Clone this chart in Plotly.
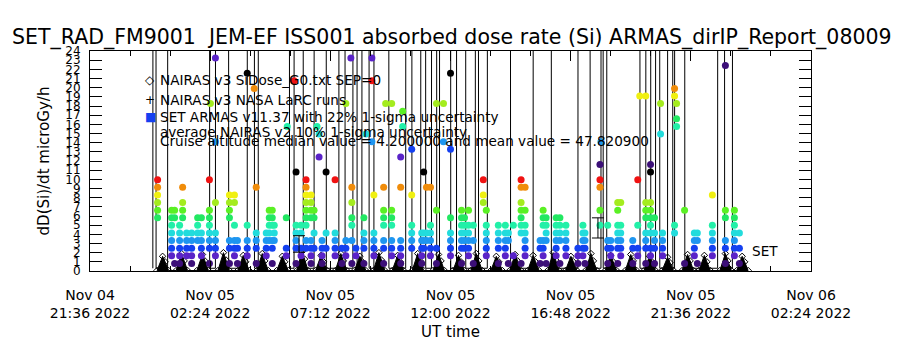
import plotly.graph_objects as go
import pandas as pd

# ---------------- data ----------------
T0 = pd.Timestamp("2022-11-04 21:36")
x_tick_hours = [0, 4.8, 9.6, 14.4, 19.2, 24.0, 28.8]
y_ticks = list(range(0, 25))

title_text = "SET_RAD_FM9001  JEM-EF ISS001 absorbed dose rate (Si) ARMAS_dirIP_Report_08009"
y_title = "dD(Si)/dt microGy/h"
x_title = "UT time"

legend_lines = [
    "NAIRAS v3 SiDose_G0.txt SEP=0",
    "NAIRAS v3 NASA LaRC runs",
    "SET ARMAS v11.37 with 22% 1-sigma uncertainty",
    "average NAIRAS v2 10% 1-sigma uncertainty",
    "Cruise altitude median value = 4.200000 and mean value = 47.820900",
]

# NAIRAS v3 SiDose_G0 (hours after 2022-11-04 21:36, microGy/h)
nairas_g0_hours = [
    2.68, 2.90, 3.00, 3.14, 3.44, 3.66, 3.76, 3.90, 4.27, 4.49, 4.59, 4.73,
    5.11, 5.33, 5.43, 5.57, 5.90, 6.12, 6.22, 6.36, 6.66, 6.88, 6.98, 7.12,
    7.46, 7.68, 7.78, 7.92, 8.25, 8.47, 8.57, 8.71, 9.01, 9.23, 9.33, 9.47,
    9.80, 10.02, 10.12, 10.26, 10.56, 10.78, 10.88, 11.02, 11.32, 11.54, 11.64, 11.78,
    12.07, 12.29, 12.39, 12.53, 12.87, 13.09, 13.19, 13.33, 13.70, 13.92, 14.02, 14.16,
    14.50, 14.72, 14.82, 14.96, 15.21, 15.43, 15.53, 15.67, 16.01, 16.23, 16.33, 16.47,
    16.76, 16.98, 17.08, 17.22, 17.48, 17.70, 17.80, 17.94, 18.28, 18.50, 18.60, 18.74,
    18.99, 19.21, 19.31, 19.45, 19.79, 20.01, 20.11, 20.25, 20.58, 20.80, 20.90, 21.04,
    21.38, 21.60, 21.70, 21.84, 22.13, 22.35, 22.45, 22.59, 22.85, 23.07, 23.17, 23.31,
    23.65, 23.87, 23.97, 24.11, 24.32, 24.54, 24.64, 24.78, 25.16, 25.38, 25.48, 25.62,
    25.83, 26.05, 26.15, 26.29,
]
nairas_g0_dose = [
    0.05, 1.6, 1.0, 0.05, 0.05, 1.9, 1.1, 0.05, 0.05, 1.8, 1.1, 0.05,
    0.05, 2.0, 1.2, 0.05, 0.05, 1.7, 1.0, 0.05, 0.05, 1.9, 1.1, 0.05,
    0.05, 1.6, 1.0, 0.05, 0.05, 2.1, 1.3, 0.05, 0.05, 1.7, 1.0, 0.05,
    0.05, 1.9, 1.1, 0.05, 0.05, 1.6, 1.0, 0.05, 0.05, 2.0, 1.2, 0.05,
    0.05, 1.7, 1.0, 0.05, 0.05, 1.9, 1.1, 0.05, 0.05, 1.8, 1.1, 0.05,
    0.05, 1.7, 1.0, 0.05, 0.05, 1.9, 1.1, 0.05, 0.05, 1.6, 1.0, 0.05,
    0.05, 1.8, 1.1, 0.05, 0.05, 1.7, 1.0, 0.05, 0.05, 2.0, 1.2, 0.05,
    0.05, 1.6, 1.0, 0.05, 0.05, 1.9, 1.1, 0.05, 0.05, 1.7, 1.0, 0.05,
    0.05, 1.8, 1.1, 0.05, 0.05, 1.6, 1.0, 0.05, 0.05, 1.5, 0.9, 0.05,
    0.05, 1.8, 1.1, 0.05, 0.05, 1.7, 1.0, 0.05, 0.05, 1.9, 1.1, 0.05,
    0.05, 1.6, 1.0, 0.05,
]

# NAIRAS v3 NASA LaRC runs: SAA passes shoot far above the plotted range
larc_hours = [
    2.51, 2.52, 2.63, 2.64, 3.10, 3.11, 4.77, 4.78, 5.01, 5.02, 5.53, 5.54,
    6.28, 6.29, 6.56, 6.57, 6.72, 6.73, 7.96, 7.97, 8.15, 8.16, 8.51, 8.52,
    8.95, 8.96, 9.43, 9.44, 9.94, 9.95, 10.18, 10.19, 10.50, 10.51, 10.66, 10.67,
    10.86, 10.87, 11.14, 11.15, 11.34, 11.35, 11.93, 11.94, 12.61, 12.62, 12.85, 12.86,
    13.21, 13.22, 13.40, 13.41, 13.64, 13.65, 13.84, 13.85, 13.96, 13.97, 14.40, 14.41,
    14.64, 14.65, 15.00, 15.01, 15.39, 15.40, 15.51, 15.52, 15.87, 15.88, 16.79, 16.80,
    17.70, 17.71, 18.42, 18.43, 19.49, 19.50, 19.97, 19.98, 20.41, 20.42, 20.49, 20.50,
    20.64, 20.65, 21.96, 21.97, 22.20, 22.21, 22.39, 22.40, 22.59, 22.60, 22.75, 22.76,
    23.07, 23.08, 23.27, 23.28, 23.35, 23.36, 23.75, 23.76, 25.07, 25.08, 25.34, 25.35,
    25.66, 25.67,
]
larc_dose = [
    0.3, 90, 90, 0.3, 0.3, 90, 90, 0.3, 0.3, 90, 90, 0.3,
    0.3, 90, 90, 0.3, 0.3, 90, 90, 0.3, 0.3, 90, 90, 0.3,
    0.3, 90, 90, 0.3, 0.3, 90, 90, 0.3, 0.3, 90, 90, 0.3,
    0.3, 90, 90, 0.3, 0.3, 90, 90, 0.3, 0.3, 90, 90, 0.3,
    0.3, 90, 90, 0.3, 0.3, 90, 90, 0.3, 0.3, 90, 90, 0.3,
    0.3, 90, 90, 0.3, 0.3, 90, 90, 0.3, 0.3, 90, 90, 0.3,
    0.3, 90, 90, 0.3, 0.3, 90, 90, 0.3, 0.3, 90, 90, 0.3,
    0.3, 90, 90, 0.3, 0.3, 90, 90, 0.3, 0.3, 90, 90, 0.3,
    0.3, 90, 90, 0.3, 0.3, 90, 90, 0.3, 0.3, 90, 90, 0.3,
    0.3, 90,
]

# SET ARMAS: readings are quantized in counts of 0.83 microGy/h
armas_resolution = 0.83
armas_hours = [
    2.70, 3.26, 3.38, 3.58, 3.70, 3.86, 4.06, 4.30, 4.45, 4.77, 4.81, 5.01,
    5.57, 5.77, 5.89, 6.28, 6.56, 6.64, 7.04, 7.16, 7.28, 7.36, 7.84, 7.88,
    8.15, 8.23, 8.43, 8.63, 8.83, 8.95, 9.07, 9.15, 9.27, 9.43, 9.79, 10.06,
    10.22, 10.42, 10.46, 10.62, 10.94, 11.02, 11.26, 11.34, 11.73, 11.81, 12.05, 12.41,
    12.49, 12.85, 13.25, 13.33, 13.44, 13.60, 13.84, 14.12, 14.40, 14.84, 14.96, 15.12,
    15.31, 15.71, 15.83, 16.31, 16.59, 16.71, 16.91, 17.22, 17.38, 17.98, 18.10, 18.22,
    18.62, 18.77, 19.01, 19.49, 19.69, 19.77, 20.37, 20.41, 20.68, 20.80, 21.08, 21.20,
    21.68, 21.88, 21.96, 22.20, 22.39, 22.55, 22.79, 22.87, 23.35, 23.43, 23.75, 24.14,
    24.26, 24.86, 25.38, 25.74, 25.94,
]
armas_counts = [
    [7, 8, 9, 10, 11, 12], [2, 3, 4, 5, 6, 7, 8], [1, 7, 8], [1, 2, 3, 4, 5, 6],
    [7, 8, 9, 11], [2, 3, 4, 5], [1, 2, 3, 4, 5], [4, 5, 6, 7], [2, 3, 4, 5, 7],
    [1, 3, 4, 5, 6, 7, 8, 12], [22], [2, 3, 4, 5, 9, 17, 28],
    [1, 3, 4, 7, 8, 9, 10], [2, 3, 4, 6, 9, 10], [1, 3, 4], [2, 3, 4, 6, 26], [24],
    [1, 3, 4, 5, 11], [2, 3, 4, 5], [4, 5, 6, 7, 8], [1, 3, 4, 6, 7, 8], [4, 5, 6],
    [2, 3, 7], [19],
    [25], [1, 3, 4, 5, 6, 13], [2, 3, 5, 6], [3, 4, 6, 7, 8, 9, 10, 11, 12],
    [1, 2, 3, 4, 7, 8, 9, 10], [3, 5, 7, 8], [19], [15, 18], [1, 2, 3, 4], [3, 5, 13],
    [2, 3, 4, 5, 12], [1, 3],
    [2, 3, 4, 22], [28], [1, 4, 6, 7, 9, 11], [2, 3], [1, 3, 4, 5, 7], [18],
    [17, 25, 28], [2, 3, 4, 5, 10], [1, 3, 4, 6, 7, 8, 11], [22], [2, 3, 4, 6, 7, 8, 22],
    [1, 2, 3, 4, 11, 15],
    [19, 21], [3, 4, 5, 6, 10, 16], [1, 2, 3, 4, 5], [3, 4, 5, 13], [4, 5, 11],
    [2, 3, 4, 5, 6, 11], [1, 3, 8, 22], [17, 22], [2, 3, 4, 5, 7, 16, 26],
    [1, 3, 4, 5, 6, 7, 8], [3, 4, 5, 6, 7], [2, 3, 4, 5, 6, 8],
    [1, 4, 6], [9, 10, 12], [2, 3, 4, 5, 6, 8], [1, 3, 4, 5, 6], [2, 3, 4, 5, 6],
    [1, 4, 5], [2, 6], [1, 5, 6, 7, 8, 9, 11, 12], [2, 3, 4, 5, 6, 8, 11], [1, 3, 4],
    [2, 3, 4, 6, 7, 8], [1, 4, 5, 6, 7],
    [2, 3, 4, 5, 6, 7], [1, 4, 5, 6, 7], [2, 3, 4, 5, 6], [1, 2, 3], [2, 3, 4, 5, 6],
    [1, 3, 4, 5], [6, 8, 11, 12, 14], [17], [1, 3, 4, 6], [2, 3, 4],
    [1, 3, 4, 5, 6, 8, 9], [2, 3, 4, 5, 6, 9],
    [1, 3, 4], [2, 3, 6, 12], [23], [1, 3, 4, 5, 7, 8, 9, 23],
    [2, 3, 5, 6, 7, 8, 9, 13, 14], [1, 3, 4, 5, 7], [18, 22], [2, 3, 4, 5],
    [5, 6, 23, 24], [19, 20, 22], [1, 8], [2, 3, 4, 5],
    [1, 4, 5], [2, 3, 4, 5, 6, 10], [1, 3, 4, 7, 8, 27], [2, 3, 4, 5, 6, 7, 8], [1, 3, 5],
]

# average NAIRAS v2 with 10% 1-sigma bars
err_hours = [8.35, 20.29]
err_dose = [2.95, 4.7]
err_sigma = [0.9, 1.1]

# ---------------- styling ----------------
palette = ["#000000", "#3c0f78", "#5a23c8", "#1440f0", "#1e96f0", "#22dcdc",
           "#22f0a8", "#22e862", "#5af024", "#a4ec1e", "#f0f010", "#f08c0a", "#f01212"]
FONT = "DejaVu Sans ExtraLight, DejaVu Sans"


def to_time(hours):
    return [T0 + pd.Timedelta(hours=h) for h in hours]


fig = go.Figure()

# NAIRAS G0 orbit humps
fig.add_trace(go.Scatter(
    x=to_time(nairas_g0_hours), y=nairas_g0_dose, mode="lines+markers",
    line=dict(color="black", width=1), fill="tozeroy", fillcolor="black",
    marker=dict(symbol="diamond-open", size=5, color="black"), showlegend=False))

# NAIRAS LaRC line (spikes)
fig.add_trace(go.Scatter(
    x=to_time(larc_hours), y=larc_dose, mode="lines",
    line=dict(color="black", width=1), showlegend=False))

# ARMAS points
ax, ay, ac = [], [], []
for h, counts in zip(armas_hours, armas_counts):
    for c in counts:
        ax.append(h)
        ay.append(c * armas_resolution)
        ac.append(palette[c % 13])
fig.add_trace(go.Scatter(
    x=to_time(ax), y=ay, mode="markers",
    marker=dict(symbol="circle", size=7, color=ac, line=dict(width=0)),
    showlegend=False))

# error bars
fig.add_trace(go.Scatter(
    x=to_time(err_hours), y=err_dose, mode="markers",
    marker=dict(size=1, color="black"),
    error_y=dict(type="data", array=err_sigma, color="black", thickness=1, width=6),
    showlegend=False))

# ---------------- layout ----------------
L, R, TOP, BOT = 90, 811, 51, 276
W, H = 900, 350


def px(xp):
    return (xp - L) / (R - L)


def py(yp):
    return (BOT - yp) / (BOT - TOP)


annots = []
sym_rows = [("\u25c7", "black", 81), ("+", "black", 101), ("\u25a0", "#1440f0", 118)]
for s, col, yy in sym_rows:
    annots.append(dict(text=s, x=px(150), y=py(yy), xref="paper", yref="paper",
                       showarrow=False, xanchor="center", yanchor="middle",
                       font=dict(family="DejaVu Sans", size=12, color=col)))
for txt, yy in zip(legend_lines, [81, 101, 118, 134, 143]):
    annots.append(dict(text=txt, x=px(158), y=py(yy), xref="paper", yref="paper",
                       showarrow=False, xanchor="left", yanchor="middle",
                       font=dict(family=FONT, size=13.6, color="black")))
annots.append(dict(text="SET", x=px(750), y=py(256), xref="paper", yref="paper",
                   showarrow=False, xanchor="left", yanchor="middle",
                   font=dict(family=FONT, size=13.6, color="black")))

tickvals = to_time(x_tick_hours)
ticktext = [f"{t.strftime('%b %d')}<br>{t.strftime('%H:%M %Y')}" for t in tickvals]

fig.update_layout(
    width=W, height=H,
    margin=dict(l=L, r=W - R, t=TOP, b=H - BOT, pad=0),
    paper_bgcolor="white", plot_bgcolor="white",
    font=dict(family=FONT, color="black"),
    title=dict(text=title_text, x=0.502, xref="container", xanchor="center",
               y=1 - 37 / H, yref="container", yanchor="middle",
               font=dict(family=FONT, size=20.5, color="black")),
    annotations=annots,
    xaxis=dict(
        type="date", range=[tickvals[0], tickvals[-1]],
        tickvals=tickvals, ticktext=ticktext,
        ticks="inside", ticklen=10, tickcolor="black", tickwidth=1,
        minor=dict(dtick=96 * 60 * 1000, tick0=tickvals[0], ticks="inside",
                   ticklen=5, tickcolor="black", showgrid=False),
        showline=True, linecolor="black", linewidth=1, mirror="ticks",
        showgrid=False, zeroline=False,
        tickfont=dict(family=FONT, size=14), ticklabelstandoff=11,
        title=dict(text=x_title, font=dict(family=FONT, size=15), standoff=6),
    ),
    yaxis=dict(
        range=[0, 24], tickvals=y_ticks, ticktext=[str(v) for v in y_ticks],
        ticks="inside", ticklen=12, tickcolor="black", tickwidth=1,
        showline=True, linecolor="black", linewidth=1, mirror="ticks",
        showgrid=False, zeroline=False,
        tickfont=dict(family=FONT, size=12), ticklabelstandoff=6,
        title=dict(text=y_title, font=dict(family=FONT, size=15), standoff=12),
    ),
)

fig.write_html("out.html")
